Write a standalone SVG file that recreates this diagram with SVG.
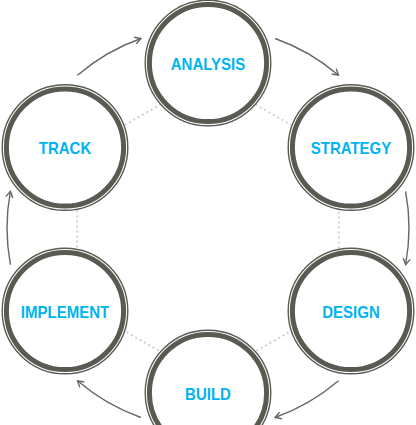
<svg xmlns="http://www.w3.org/2000/svg" width="416" height="425" viewBox="0 0 416 425">
<style>
.ring-outer{fill:#fff;stroke:#5a5a52;stroke-width:1.4}
.ring-inner{fill:none;stroke:#5a5a52;stroke-width:5}
.lbl{font-family:"Liberation Sans",Arial,sans-serif;font-weight:bold;font-size:16.5px;fill:#00b4ef;text-anchor:middle}
.arc{fill:none;stroke:#666;stroke-width:1.4;marker-end:url(#ah)}
.dots{fill:none;stroke:#cfcfcf;stroke-width:2;stroke-dasharray:2 3}
</style>
<defs>
<marker id="ah" markerUnits="userSpaceOnUse" markerWidth="10" markerHeight="10" viewBox="0 0 10 10" refX="8" refY="5" orient="auto">
<path d="M2,1.5 L8,5 L2,8.5" fill="none" stroke="#666" stroke-width="1.4"/>
</marker>
</defs>
<g id="connectors">
<polygon class="dots" points="208,77 338.8,152.5 338.8,303.5 208,379 77.2,303.5 77.2,152.5"/>
<path class="arc" d="M275.1,38.5 A201,201 0 0 1 338.5,75.2"/>
<path class="arc" d="M405.6,191.4 A201,201 0 0 1 405.6,264.6"/>
<path class="arc" d="M338.5,380.8 A201,201 0 0 1 275.1,417.5"/>
<path class="arc" d="M140.9,417.5 A201,201 0 0 1 77.5,380.8"/>
<path class="arc" d="M10.4,264.6 A201,201 0 0 1 10.4,191.4"/>
<path class="arc" d="M77.5,75.2 A201,201 0 0 1 140.9,38.5"/>
</g>
<g id="analysis">
<circle class="ring-outer" cx="208" cy="63" r="62.8"/>
<circle class="ring-inner" cx="208" cy="63" r="58.6"/>
<text class="lbl" transform="translate(208,69.5) scale(0.91,1)">ANALYSIS</text>
</g>
<g id="strategy">
<circle class="ring-outer" cx="351" cy="147.5" r="62.8"/>
<circle class="ring-inner" cx="351" cy="147.5" r="58.6"/>
<text class="lbl" transform="translate(351,154) scale(0.91,1)">STRATEGY</text>
</g>
<g id="design">
<circle class="ring-outer" cx="351" cy="311" r="62.8"/>
<circle class="ring-inner" cx="351" cy="311" r="58.6"/>
<text class="lbl" transform="translate(351,317.5) scale(0.91,1)">DESIGN</text>
</g>
<g id="build">
<circle class="ring-outer" cx="208" cy="393" r="62.8"/>
<circle class="ring-inner" cx="208" cy="393" r="58.6"/>
<text class="lbl" transform="translate(208,399.5) scale(0.91,1)">BUILD</text>
</g>
<g id="implement">
<circle class="ring-outer" cx="65" cy="311" r="62.8"/>
<circle class="ring-inner" cx="65" cy="311" r="58.6"/>
<text class="lbl" transform="translate(65,317.5) scale(0.91,1)">IMPLEMENT</text>
</g>
<g id="track">
<circle class="ring-outer" cx="65" cy="147.5" r="62.8"/>
<circle class="ring-inner" cx="65" cy="147.5" r="58.6"/>
<text class="lbl" transform="translate(65,154) scale(0.91,1)">TRACK</text>
</g>
</svg>
